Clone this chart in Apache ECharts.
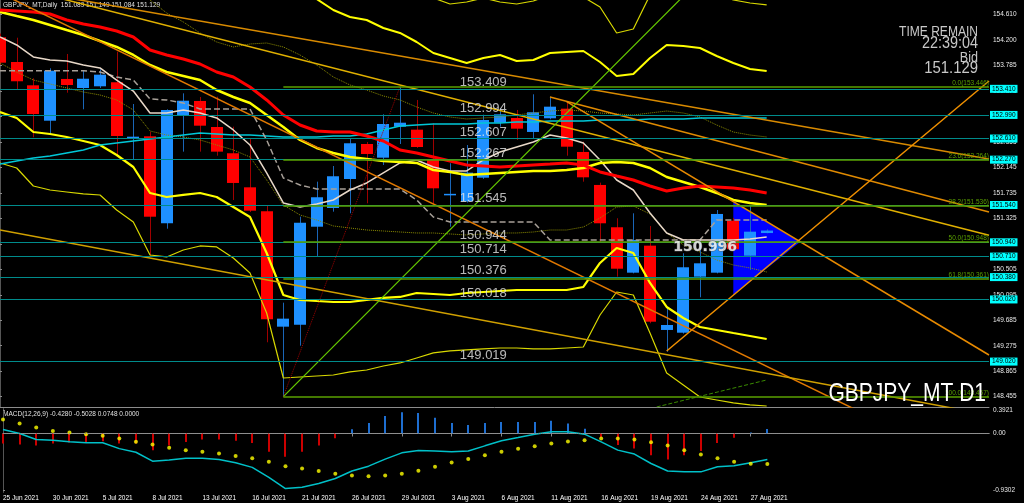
<!DOCTYPE html>
<html><head><meta charset="utf-8">
<script src="https://cdn.jsdelivr.net/npm/echarts@6/dist/echarts.min.js"></script>
<style>html,body{margin:0;padding:0;background:#000;overflow:hidden}#c{width:1024px;height:503px}</style>
</head><body><div id="c"></div>
<script>
// ---------------- DATA ----------------
const dates = ['25 Jun 2021','28 Jun 2021','29 Jun 2021','30 Jun 2021','1 Jul 2021','2 Jul 2021','5 Jul 2021','6 Jul 2021','7 Jul 2021','8 Jul 2021','9 Jul 2021','12 Jul 2021','13 Jul 2021','14 Jul 2021','15 Jul 2021','16 Jul 2021','19 Jul 2021','20 Jul 2021','21 Jul 2021','22 Jul 2021','23 Jul 2021','26 Jul 2021','27 Jul 2021','28 Jul 2021','29 Jul 2021','30 Jul 2021','2 Aug 2021','3 Aug 2021','4 Aug 2021','5 Aug 2021','6 Aug 2021','9 Aug 2021','10 Aug 2021','11 Aug 2021','12 Aug 2021','13 Aug 2021','16 Aug 2021','17 Aug 2021','18 Aug 2021','19 Aug 2021','20 Aug 2021','23 Aug 2021','24 Aug 2021','25 Aug 2021','26 Aug 2021','27 Aug 2021','30 Aug 2021'];
const dateTicks = [0,3,6,9,12,15,18,21,24,27,30,33,36,39,42,45];

const opens  = [154.240,153.842,153.467,152.897,153.569,153.424,153.451,153.516,152.608,152.646,151.246,152.973,153.215,152.796,152.373,151.825,151.439,149.582,149.614,151.191,151.492,151.959,152.522,152.302,152.801,152.753,152.276,151.705,151.600,151.980,152.865,152.941,152.716,152.936,153.091,152.394,151.863,151.182,150.451,150.886,149.529,149.485,150.387,150.451,151.288,150.725,151.089];
const highs  = [154.300,154.233,153.580,153.741,153.971,153.702,153.725,154.008,153.166,152.720,153.081,153.338,153.279,153.284,152.801,152.614,151.525,149.968,151.352,151.916,152.168,152.614,152.555,153.000,153.446,153.231,152.856,152.212,152.506,152.994,153.097,153.070,153.322,153.284,153.203,152.559,151.900,151.327,151.407,151.203,149.878,150.763,151.005,151.460,151.330,151.541,151.149];
const lows   = [153.800,153.392,152.630,152.667,153.348,153.081,153.424,152.345,152.281,150.709,151.159,152.399,152.399,152.334,151.621,151.428,149.331,148.457,149.276,150.720,151.433,151.407,151.568,152.184,152.522,152.460,151.557,151.191,151.580,151.960,152.801,152.587,152.614,152.920,152.334,151.916,150.934,150.387,150.440,149.637,149.179,149.470,150.055,150.440,150.800,150.494,151.084];
const closes = [153.831,153.532,153.005,153.702,153.472,153.573,153.638,152.651,152.640,151.352,153.070,153.219,152.817,152.399,151.895,151.449,149.701,149.711,151.256,151.665,152.003,152.534,152.361,152.844,152.865,152.474,151.809,151.720,152.061,152.909,153.000,152.769,153.033,153.123,152.479,151.986,151.246,150.515,150.977,149.662,149.609,150.538,150.602,151.396,150.828,151.111,151.129];

const maRed = [154.679,154.663,154.647,154.615,154.518,154.454,154.405,154.341,154.245,154.035,153.955,153.890,153.810,153.681,153.601,153.440,153.231,152.989,152.828,152.732,152.715,152.715,152.651,152.571,152.426,152.377,152.313,152.249,152.184,152.168,152.152,152.168,152.184,152.200,152.217,152.184,152.072,152.007,151.943,151.846,151.766,151.814,151.846,151.830,151.814,151.782,151.734];
const maYellow = [154.647,154.582,154.518,154.438,154.357,154.277,154.180,154.084,153.955,153.794,153.681,153.617,153.552,153.391,153.279,153.182,152.989,152.796,152.587,152.458,152.377,152.313,152.281,152.249,152.233,152.217,152.104,152.072,152.023,152.040,152.056,152.072,152.088,152.088,152.104,152.136,152.217,152.233,152.217,152.136,151.991,151.911,151.830,151.734,151.621,151.573,151.541];
const bandLow = [153.037,152.941,152.715,152.683,152.635,152.571,152.506,152.345,152.152,151.734,151.669,151.702,151.734,151.669,151.508,151.347,150.768,150.092,150.012,149.995,149.979,149.979,150.012,150.044,150.060,150.124,150.108,150.092,150.124,150.140,150.156,150.172,150.172,150.172,150.172,150.221,150.607,150.848,150.768,150.285,149.899,149.722,149.577,149.529,149.480,149.432,149.384];
const bandOuterLow = [152.217,152.136,151.846,151.782,151.750,151.718,151.701,151.460,151.267,150.736,150.704,150.816,150.881,150.865,150.687,150.446,149.802,148.756,148.772,148.788,148.804,148.853,148.885,148.949,148.998,149.078,149.159,149.191,149.207,149.223,149.239,149.239,149.223,149.223,149.239,149.255,149.770,150.140,150.092,149.480,148.837,148.643,148.450,148.402,148.354,148.322,148.305];
const bandUp = [null,null,null,null,null,null,null,null,null,null,null,null,null,null,null,null,null,155.564,155.162,154.856,154.679,154.566,154.518,154.389,154.309,154.164,153.987,153.907,153.826,153.907,153.955,153.858,153.874,153.987,154.003,154.019,153.842,153.617,153.649,153.907,154.116,154.100,154.067,153.939,153.826,153.729,153.697];
const bandOuterUp = [null,null,null,null,null,null,null,null,null,null,null,null,null,null,null,null,null,null,null,null,null,null,null,null,null,155.001,154.872,154.776,154.808,154.872,154.808,154.776,154.824,154.920,154.937,154.888,154.727,154.309,154.373,154.920,155.242,155.162,155.033,154.937,154.840,154.792,154.760];
const maFast = [154.244,154.116,153.923,153.874,153.858,153.794,153.746,153.552,153.375,153.021,153.021,153.070,153.021,152.941,152.748,152.506,152.056,151.573,151.508,151.557,151.621,151.782,151.895,152.056,152.217,152.265,152.152,152.088,152.088,152.265,152.394,152.474,152.555,152.667,152.619,152.538,152.265,151.943,151.782,151.412,151.090,150.977,150.977,150.977,150.977,150.993,151.026];
const baseLine = [153.702,153.702,153.702,153.702,153.702,153.702,153.681,153.601,153.552,153.247,153.231,153.182,153.086,153.086,153.086,153.086,152.587,151.975,151.862,151.798,151.798,151.798,151.798,151.798,151.798,151.621,151.347,151.267,151.267,151.267,151.267,151.267,151.267,150.977,150.977,150.977,150.977,150.977,150.977,150.977,150.977,150.977,150.977,151.299,151.299,151.299,151.299];
const dotLow = [153.826,153.681,153.552,153.488,153.424,153.359,153.311,153.231,153.070,152.732,152.667,152.635,152.587,152.506,152.426,152.313,151.943,151.540,151.380,151.299,151.203,151.170,151.138,151.122,151.106,151.090,151.090,151.074,151.058,151.074,151.090,151.090,151.106,151.138,151.138,151.186,151.331,151.508,151.524,151.396,151.090,150.897,150.784,150.655,150.575,150.527,150.462];
const dotUp = [null,null,null,null,null,null,null,null,155.162,154.840,154.631,154.486,154.309,154.164,154.084,154.132,154.148,154.084,153.955,153.794,153.601,153.472,153.391,153.295,153.231,153.118,153.021,152.957,152.925,152.941,152.957,152.989,153.021,153.053,153.070,153.053,153.021,153.005,152.989,153.021,153.053,153.021,152.957,152.828,152.715,152.667,152.635];
const maCyan = [152.200,152.249,152.297,152.329,152.377,152.426,152.506,152.538,152.571,152.603,152.635,152.667,152.699,152.683,152.667,152.667,152.651,152.635,152.635,152.635,152.651,152.651,152.683,152.748,152.812,152.828,152.844,152.844,152.844,152.860,152.860,152.876,152.876,152.892,152.892,152.892,152.909,152.909,152.909,152.925,152.925,152.925,152.941,152.941,152.941,152.941,152.941];

const macdHist = [-0.165,-0.18,-0.20,-0.165,-0.15,-0.15,-0.127,-0.165,-0.165,-0.275,-0.20,-0.14,-0.10,-0.10,-0.12,-0.155,-0.30,-0.385,-0.30,-0.20,-0.08,0.07,0.175,0.29,0.35,0.34,0.26,0.175,0.14,0.175,0.19,0.19,0.19,0.21,0.165,0.08,-0.066,-0.19,-0.25,-0.36,-0.43,-0.36,-0.29,-0.155,-0.07,0.015,0.0748];
const macdMain = [0.066,0,-0.10,-0.11,-0.138,-0.154,-0.154,-0.25,-0.31,-0.457,-0.44,-0.41,-0.41,-0.43,-0.485,-0.56,-0.727,-0.91,-0.89,-0.826,-0.744,-0.62,-0.54,-0.424,-0.32,-0.28,-0.29,-0.30,-0.29,-0.204,-0.12,-0.066,-0.011,0.028,0.028,-0.011,-0.138,-0.275,-0.34,-0.496,-0.62,-0.634,-0.634,-0.55,-0.534,-0.485,-0.428];
const macdSignal = [0.23,0.165,0.10,0.04,0.017,-0.011,-0.039,-0.083,-0.138,-0.18,-0.237,-0.275,-0.30,-0.33,-0.37,-0.41,-0.468,-0.54,-0.58,-0.62,-0.667,-0.694,-0.705,-0.694,-0.667,-0.617,-0.55,-0.48,-0.42,-0.358,-0.30,-0.253,-0.21,-0.165,-0.132,-0.11,-0.083,-0.083,-0.10,-0.143,-0.198,-0.275,-0.347,-0.41,-0.468,-0.50,-0.503];

const priceTicks = [148.455,148.865,149.275,149.685,150.095,150.505,150.915,151.325,151.735,152.145,152.555,152.965,153.375,153.785,154.200,154.610];
const macdTicks = [0.3921,0,-0.9302];

const levels = [153.409,152.994,152.607,152.267,151.545,150.944,150.714,150.376,150.018,149.019];
const bidPrice = 151.129;
const fibLevels = [0.0,23.6,38.2,50.0,61.8,100.0];
const fibPrices = [153.446,152.264,151.536,150.948,150.361,148.457];
const fibStart = 17;
const tagPrice = 150.996;

const trendA = [[0,154.953],[59.34,147.201]];
const trendB = [[0,155.065],[59.34,152.279]];
const trendC = [[0,155.114],[59.34,151.054]];
const trendD = [[33,153.279],[59.34,151.428]];
const trendE = [[34,153.203],[59.34,149.126]];
const trendF = [[40,149.191],[59.34,153.536]];
const trendG = [[0,151.138],[59.34,148.161]];
const trendGreen = [[17,148.457],[59.34,159.825]];
const fibBase = [[17,148.457],[24,153.446]];
const greenDash = [[39.4,148.29],[46,148.724]];
const triangle = [[44,151.586],[44,150.092],[48,150.945]];

// ---------------- LAYOUT / STYLE ----------------
const XMAX = 59.34;
const LABEL_X = 29;
const TAG_X = 40.4;
const FONT = 'Liberation Sans';
const AX = '#8c8c8c';
const TEAL = '#008b8b';
const FIBC = '#5aa000';
const SMALL = 6.5;

const chart = echarts.init(document.getElementById('c'));
const idx = a => a.map((v, i) => [i, v]);
const mline = (arr, color, width, type, z) => ({
  type: 'line', xAxisIndex: 0, yAxisIndex: 0, data: idx(arr), symbol: 'none', showSymbol: false,
  lineStyle: { color, width, type: type || 'solid' }, z: z || 3, silent: true
});
const seg = (pts, color, width, type) => ({
  type: 'line', xAxisIndex: 0, yAxisIndex: 0, data: pts, symbol: 'none', showSymbol: false,
  lineStyle: { color, width, type: type || 'solid' }, z: 3, silent: true
});

const option = {
  backgroundColor: '#000000',
  animation: false,
  grid: [
    { left: 0, top: 0, width: 989, height: 407 },
    { left: 0, top: 409, width: 989, height: 83 }
  ],
  xAxis: [
    { gridIndex: 0, type: 'value', min: 0, max: XMAX, axisLine: { show: true, lineStyle: { color: AX } }, axisTick: { show: false }, axisLabel: { show: false }, splitLine: { show: false } },
    { gridIndex: 1, type: 'value', min: 0, max: XMAX, position: 'bottom',
      axisLine: { show: true, lineStyle: { color: AX } },
      axisTick: { show: true, customValues: dateTicks, length: 3, lineStyle: { color: AX } },
      axisLabel: { show: true, customValues: dateTicks, formatter: v => dates[Math.round(v)] || '', align: 'left', margin: 3, color: '#ffffff', fontSize: SMALL, fontFamily: FONT },
      splitLine: { show: false } },
    { gridIndex: 1, type: 'value', min: 0, max: XMAX, position: 'top', axisLine: { show: true, lineStyle: { color: AX } }, axisTick: { show: false }, axisLabel: { show: false }, splitLine: { show: false } }
  ],
  yAxis: [
    { gridIndex: 0, type: 'value', position: 'right', min: 148.289, max: 154.840,
      axisLine: { show: true, lineStyle: { color: AX } },
      axisTick: { show: true, customValues: priceTicks, length: 2, lineStyle: { color: AX } },
      axisLabel: { show: true, customValues: priceTicks, formatter: v => v.toFixed(3), color: '#e8e8e8', fontSize: SMALL, fontFamily: FONT, margin: 4 },
      splitLine: { show: false } },
    { gridIndex: 0, type: 'value', position: 'left', min: 148.289, max: 154.840, axisLine: { show: true, lineStyle: { color: '#555' } }, axisTick: { show: false }, axisLabel: { show: false }, splitLine: { show: false } },
    { gridIndex: 1, type: 'value', position: 'right', min: -0.967, max: 0.405,
      axisLine: { show: true, lineStyle: { color: AX } },
      axisTick: { show: true, customValues: macdTicks, length: 2, lineStyle: { color: AX } },
      axisLabel: { show: true, customValues: macdTicks, formatter: v => (v === 0 ? '0.00' : v.toFixed(4)), color: '#e8e8e8', fontSize: SMALL, fontFamily: FONT, margin: 4 },
      splitLine: { show: false } },
    { gridIndex: 1, type: 'value', position: 'left', min: -0.967, max: 0.405, axisLine: { show: true, lineStyle: { color: '#555' } }, axisTick: { show: false }, axisLabel: { show: false }, splitLine: { show: false } }
  ],
  series: [
    // triangle (background object)
    { type: 'custom', xAxisIndex: 0, yAxisIndex: 0, z: 1, silent: true, data: [[triangle[0][0], triangle[0][1]]],
      renderItem: (params, api) => ({ type: 'polygon', shape: { points: triangle.map(p => api.coord(p)) }, style: { fill: '#0000ff' } }) },
    // candles
    { type: 'custom', xAxisIndex: 0, yAxisIndex: 0, z: 2, silent: true,
      data: opens.map((o, i) => [i, o, closes[i], lows[i], highs[i]]),
      encode: { x: 0, y: [1, 2, 3, 4] },
      renderItem: (params, api) => {
        const i = api.value(0), o = api.value(1), c = api.value(2), l = api.value(3), h = api.value(4);
        const po = api.coord([i, o]), pc = api.coord([i, c]), pl = api.coord([i, l]), ph = api.coord([i, h]);
        const up = c >= o;
        const w = 12;
        const cx = Math.round(po[0]) + 0.5;
        const top = Math.min(po[1], pc[1]), bot = Math.max(po[1], pc[1]);
        return { type: 'group', children: [
          { type: 'line', shape: { x1: cx, y1: ph[1], x2: cx, y2: pl[1] }, style: { stroke: up ? '#1a66b8' : '#a00000', lineWidth: 1 } },
          { type: 'rect', shape: { x: Math.round(po[0] - w / 2), y: top, width: w, height: Math.max(1.5, bot - top) }, style: { fill: up ? '#1e90ff' : '#ff0000' } }
        ] };
      } },
    // indicator lines
    mline(bandOuterUp, '#d8d800', 1.2),
    mline(bandUp, '#ffff00', 2),
    mline(bandOuterLow, '#d8d800', 1.2),
    mline(bandLow, '#ffff00', 2.2),
    mline(dotUp, '#8c8c00', 1, 'dotted'),
    mline(dotLow, '#8c8c00', 1, 'dotted'),
    mline(maCyan, '#00c8d8', 1.5),
    mline(baseLine, '#a8a098', 1.5, 'dashed'),
    mline(maFast, '#e8d8c8', 1.5),
    mline(maYellow, '#ffff00', 2.5),
    mline(maRed, '#ff0000', 3),
    // trend lines
    seg(trendA, '#e07800', 1.5),
    seg(trendB, '#d88a00', 1.5),
    seg(trendC, '#e0b000', 1.5),
    seg(trendD, '#e08a00', 1.5),
    seg(trendE, '#e88a00', 1.5),
    seg(trendF, '#f09000', 1.5),
    seg(trendG, '#d0a000', 1.5),
    seg(trendGreen, '#66cc00', 1.2),
    seg(fibBase, '#a00000', 1, 'dotted'),
    seg(greenDash, '#3a8a00', 1, 'dashed'),
    // horizontal levels
    { type: 'line', xAxisIndex: 0, yAxisIndex: 0, data: [], z: 4, silent: true,
      markLine: { symbol: ['none', 'none'], silent: true, animation: false,
        lineStyle: { color: TEAL, width: 1.2, type: 'solid' },
        label: { show: true, position: 'end', distance: 1, formatter: p => Number(p.value).toFixed(3), backgroundColor: '#00ffff', color: '#000', fontSize: SMALL, fontFamily: FONT, padding: [1, 2, 0, 2] },
        data: levels.map(v => ({ yAxis: v })) } },
    { type: 'line', xAxisIndex: 0, yAxisIndex: 0, data: [], z: 4, silent: true,
      markLine: { symbol: ['none', 'none'], silent: true, animation: false,
        lineStyle: { opacity: 0 },
        label: { show: true, position: 'end', distance: 1, formatter: p => Number(p.value).toFixed(3), backgroundColor: '#ffffff', color: '#000', fontSize: SMALL, fontFamily: FONT, padding: [1, 2, 0, 2] },
        data: [{ yAxis: bidPrice }] } },
    { type: 'line', xAxisIndex: 0, yAxisIndex: 0, data: [], z: 4, silent: true,
      markLine: { symbol: ['none', 'none'], silent: true, animation: false,
        lineStyle: { color: FIBC, width: 1.5, type: 'solid' },
        label: { show: true, position: 'insideEndTop', distance: 0, formatter: p => fibLevels[p.dataIndex].toFixed(1) + '(' + fibPrices[p.dataIndex].toFixed(3) + ')', color: FIBC, fontSize: SMALL, fontFamily: FONT },
        data: fibPrices.map(v => [{ coord: [fibStart, v] }, { coord: [XMAX, v] }]) } },
    // price text objects
    { type: 'scatter', xAxisIndex: 0, yAxisIndex: 0, z: 6, silent: true, symbolSize: 0,
      data: levels.map(v => [LABEL_X, v]),
      label: { show: true, position: 'top', distance: 0, formatter: p => p.value[1].toFixed(3), color: '#e6e6e6', fontSize: 13, fontFamily: FONT } },
    { type: 'scatter', xAxisIndex: 0, yAxisIndex: 0, z: 6, silent: true, symbolSize: 0,
      data: [[TAG_X, tagPrice]],
      label: { show: true, position: [0, 2], align: 'left', verticalAlign: 'top', formatter: p => p.value[1].toFixed(3), color: '#ffffff', fontSize: 14, fontWeight: 'bold', fontFamily: 'DejaVu Sans', textBorderColor: '#555', textBorderWidth: 1 } },
    // MACD pane
    { type: 'custom', xAxisIndex: 1, yAxisIndex: 2, z: 2, silent: true, data: idx(macdHist),
      renderItem: (params, api) => {
        const i = api.value(0), v = api.value(1);
        const p0 = api.coord([i, 0]), p1 = api.coord([i, v]);
        return { type: 'rect', shape: { x: Math.round(p0[0]) - 1, y: Math.min(p0[1], p1[1]), width: 2, height: Math.abs(p1[1] - p0[1]) }, style: { fill: v >= 0 ? '#1e6ed0' : '#cc0000' } };
      } },
    { type: 'line', xAxisIndex: 1, yAxisIndex: 2, z: 3, silent: true, data: idx(macdMain), symbol: 'none', lineStyle: { color: '#00c0c8', width: 1.5 },
      markLine: { symbol: ['none', 'none'], silent: true, label: { show: false }, lineStyle: { color: '#909090', width: 1, type: 'dotted' }, data: [{ yAxis: 0 }] } },
    { type: 'scatter', xAxisIndex: 1, yAxisIndex: 2, z: 4, silent: true, data: idx(macdSignal), symbolSize: 4, itemStyle: { color: '#ffff00' } }
  ],
  graphic: [
    { type: 'text', x: 3, y: 5, silent: true, style: { text: 'GBPJPY_MT,Daily  151.089 151.149 151.084 151.129', fill: '#e0e0e0', fontSize: SMALL, fontFamily: FONT, verticalAlign: 'middle' } },
    { type: 'text', x: 3, y: 414, silent: true, style: { text: 'MACD(12,26,9) -0.4280 -0.5028 0.0748 0.0000', fill: '#e0e0e0', fontSize: SMALL, fontFamily: FONT, verticalAlign: 'middle' } },
    { type: 'text', x: 978, y: 32, scaleX: 0.86, silent: true, style: { text: 'TIME REMAIN', fill: '#c8c8c8', fontSize: 14, fontFamily: FONT, align: 'right', verticalAlign: 'middle' } },
    { type: 'text', x: 978, y: 44, scaleX: 0.9, silent: true, style: { text: '22:39:04', fill: '#c8c8c8', fontSize: 16, fontFamily: FONT, align: 'right', verticalAlign: 'middle' } },
    { type: 'text', x: 978, y: 58, scaleX: 0.9, silent: true, style: { text: 'Bid', fill: '#c8c8c8', fontSize: 14, fontFamily: FONT, align: 'right', verticalAlign: 'middle' } },
    { type: 'text', x: 978, y: 69, scaleX: 0.93, silent: true, style: { text: '151.129', fill: '#c8c8c8', fontSize: 16, fontFamily: FONT, align: 'right', verticalAlign: 'middle' } },
    { type: 'text', x: 986, y: 394, scaleX: 0.84, silent: true, z: 10, style: { text: 'GBPJPY_MT D1', fill: '#ffffff', fontSize: 25, fontFamily: FONT, align: 'right', verticalAlign: 'middle' } }
  ]
};
chart.setOption(option);
</script>
</body></html>
